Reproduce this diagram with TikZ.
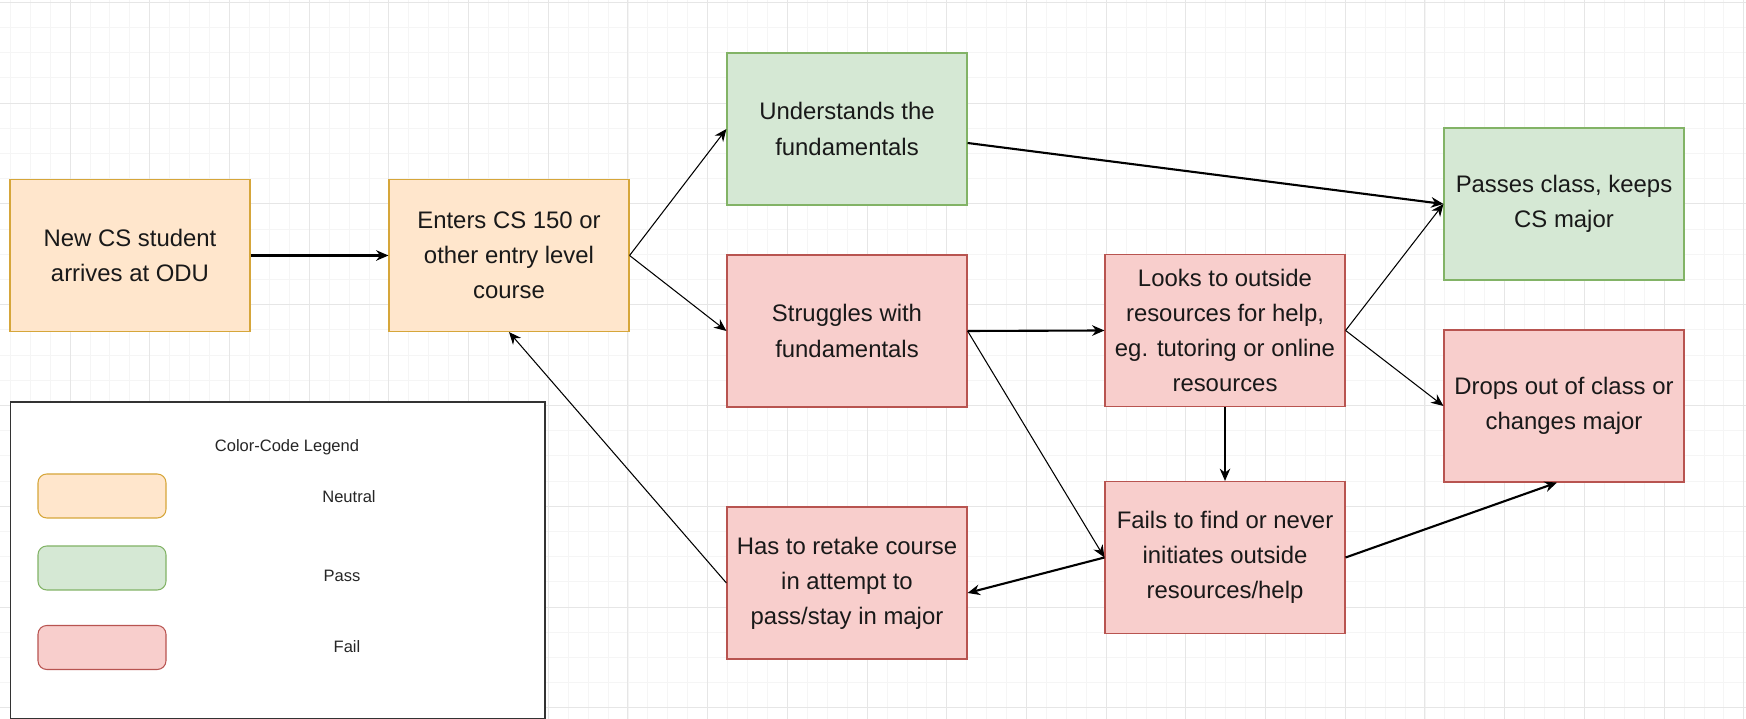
\documentclass[tikz,border=0pt]{standalone}
\usepackage{fontspec}
\setmainfont{Liberation Sans}
\usepackage{tikz}
\usetikzlibrary{arrows.meta}
\definecolor{neutralfill}{HTML}{FFE6CC}
\definecolor{neutralline}{HTML}{D6A63A}
\definecolor{passfill}{HTML}{D5E8D4}
\definecolor{passline}{HTML}{82B366}
\definecolor{failfill}{HTML}{F8CECC}
\definecolor{failline}{HTML}{B85450}
\definecolor{gridminor}{HTML}{F5F5F5}
\definecolor{gridmajor}{HTML}{E6E6E6}

\begin{document}
\begin{tikzpicture}[
    stage/.style={rectangle, draw=#1line, fill=#1fill, line width=0.65pt,
                  minimum width=4.8cm, minimum height=3.04cm, inner sep=0pt,
                  align=center, text=black!90,
                  font=\fontsize{13.6}{20}\selectfont},
    stage/.default=neutral,
    swatch/.style={rectangle, rounded corners=5pt, draw=#1line, fill=#1fill,
                   line width=0.6pt, minimum width=2.56cm, minimum height=0.88cm},
    keytext/.style={font=\fontsize{9.4}{11}\selectfont, text=black!85},
    legendframe/.style={rectangle, draw=black!80, fill=white, line width=0.9pt,
                        minimum width=10.69cm, minimum height=6.34cm, inner sep=0pt},
    arrow/.style={-{Stealth[length=7pt,width=6pt]}, line width=0.6pt},
    heavy/.style={arrow, line width=1.2pt}
]
\useasboundingbox (0,0) rectangle (34.92,14.38);

% background grid
\draw[gridminor, line width=0.4pt, xstep=0.3985, ystep=0.504, shift={(0.2045,0.224)}]
    (-0.2045,-0.224) grid (34.7155,14.156);
\draw[gridmajor, line width=0.5pt, xstep=1.594, ystep=2.016, shift={(1.4,0.224)}]
    (-1.4,-0.224) grid (33.52,14.156);

% Legend
\node[legendframe] at (5.555,3.17) (legend) {};
\node[keytext] at (5.74,5.44) (legend-title) {Color-Code Legend};
\node[swatch=neutral] at (2.04,4.46) (key-n) {};
\node[swatch=pass] at (2.04,3.02) (key-p) {};
\node[swatch=fail] at (2.04,1.43) (key-f) {};
\node[keytext] at (6.98,4.44) (lbl-n) {Neutral};
\node[keytext] at (6.84,2.86) (lbl-p) {Pass};
\node[keytext] at (6.94,1.44) (lbl-f) {Fail};

% Entry
\node[stage] at (2.6,9.27) (new) {New CS student\\arrives at ODU};
\node[stage] at (10.18,9.27) (enters) {Enters CS 150 or\\other entry level\\course};

% Outcome of the course
\node[stage=pass] at (16.94,11.8) (under) {Understands the\\fundamentals};
\node[stage=fail] at (16.94,7.76) (strug) {Struggles with\\fundamentals};
\node[stage=fail] at (16.94,2.72) (retake) {Has to retake course\\in attempt to\\pass/stay in major};

% Help
\node[stage=fail] at (24.5,7.77) (looks) {Looks to outside\\resources for help,\\eg. tutoring or online\\resources};
\node[stage=fail] at (24.5,3.23) (fails) {Fails to find or never\\initiates outside\\resources/help};

% End
\node[stage=pass] at (31.28,10.3) (passes) {Passes class, keeps\\CS major};
\node[stage=fail] at (31.28,6.26) (drops) {Drops out of class or\\changes major};

% Arrows
\draw[heavy] (new) -- (enters);
\draw[arrow] (enters.east) -- (under.west);
\draw[arrow] (enters.east) -- (strug.west);
\draw[heavy] ([yshift=-0.28cm]under.east) -- (passes.west);
\draw[heavy] (strug.east) -- (looks.west);
\draw[arrow] (strug.east) -- (fails.west);
\draw[arrow] (looks.east) -- (passes.west);
\draw[arrow] (looks.east) -- (drops.west);
\draw[arrow] (looks) -- (fails);
\draw[heavy] (fails.east) -- ([xshift=-0.14cm]drops.south);
\draw[heavy] (fails.west) -- ([yshift=-0.2cm]retake.east);
\draw[arrow] (retake.west) -- (enters.south);

\end{tikzpicture}
\end{document}
